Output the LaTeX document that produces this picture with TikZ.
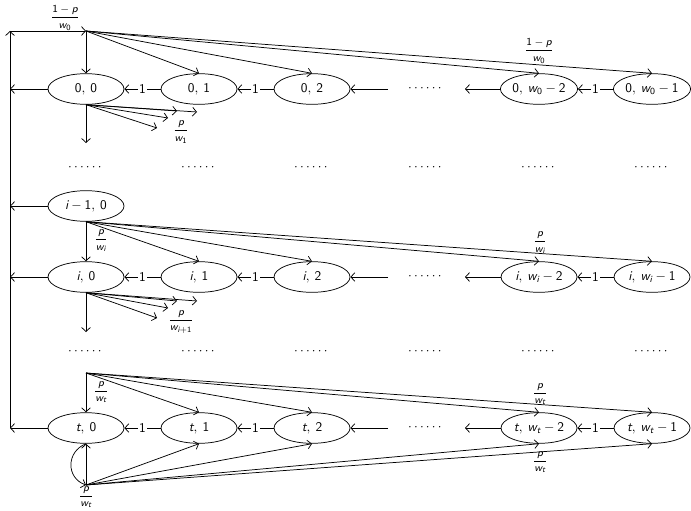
\documentclass[tikz,border=0pt]{standalone}
\usepackage{amsmath}
\usepackage{fontspec}
\usetikzlibrary{shapes.geometric,arrows.meta,calc}
\renewcommand{\familydefault}{\sfdefault}
\newcommand{\Vv}[1]{\text{\sffamily\itshape #1}}
\newcommand{\Nn}[1]{\text{\sffamily\upshape #1}}
\newcommand{\Cm}{,\mskip4mu}
\begin{document}
\begin{tikzpicture}[x=0.75pt,y=-0.75pt,
  st/.style={draw, ellipse, minimum width=57pt, minimum height=23pt, inner sep=0.5pt, line width=0.55pt},
  arr/.style={-{Straight Barb[length=3pt,width=6.5pt]}, line width=0.55pt},
  one/.style={fill=white, inner sep=1pt},
  lab/.style={font=\footnotesize, inner sep=0pt},
  dts/.style={inner sep=0pt}]
\useasboundingbox (0,0) rectangle (691,510);

% --- helper coordinates
\coordinate (S0) at (86,31);
\coordinate (Lt) at (10,31);
\coordinate (Lb) at (10,428);
\coordinate (St) at (86,373);
\coordinate (Sb) at (86,485);

% --- row 0
\node[st] (a0) at (86,89) {$\Nn{0}\Cm\Nn{0}$};
\node[st] (a1) at (199,89) {$\Nn{0}\Cm\Nn{1}$};
\node[st] (a2) at (312,89) {$\Nn{0}\Cm\Nn{2}$};
\node[dts] (ad) at (426,89) {$\cdots\cdots$};
\node[st] (a3) at (539,89) {$\Nn{0}\Cm\Vv{w}_{\Nn{0}}-\Nn{2}$};
\node[st] (a4) at (652,89) {$\Nn{0}\Cm\Vv{w}_{\Nn{0}}-\Nn{1}$};

% --- dots row 1
\foreach \x [count=\k] in {86,199,312,426,539,652}
  \node[dts] (d1\k) at (\x,168) {$\cdots\cdots$};

% --- row i-1
\node[st] (h0) at (86,206) {$\Vv{i}-\Nn{1}\Cm\Nn{0}$};

% --- row i
\node[st] (b0) at (86,277) {$\Vv{i}\Cm\Nn{0}$};
\node[st] (b1) at (199,277) {$\Vv{i}\Cm\Nn{1}$};
\node[st] (b2) at (312,277) {$\Vv{i}\Cm\Nn{2}$};
\node[dts] (bd) at (426,277) {$\cdots\cdots$};
\node[st] (b3) at (539,277) {$\Vv{i}\Cm\Vv{w}_{\Vv{i}}-\Nn{2}$};
\node[st] (b4) at (652,277) {$\Vv{i}\Cm\Vv{w}_{\Vv{i}}-\Nn{1}$};

% --- dots row 2
\foreach \x [count=\k] in {86,199,312,426,539,652}
  \node[dts] (d2\k) at (\x,352) {$\cdots\cdots$};

% --- row t
\node[st] (c0) at (86,428) {$\Vv{t}\Cm\Nn{0}$};
\node[st] (c1) at (199,428) {$\Vv{t}\Cm\Nn{1}$};
\node[st] (c2) at (312,428) {$\Vv{t}\Cm\Nn{2}$};
\node[dts] (cd) at (426,428) {$\cdots\cdots$};
\node[st] (c3) at (539,428) {$\Vv{t}\Cm\Vv{w}_{\Vv{t}}-\Nn{2}$};
\node[st] (c4) at (652,428) {$\Vv{t}\Cm\Vv{w}_{\Vv{t}}-\Nn{1}$};

% --- bus on the left
\draw[arr] (Lb) -- (Lt);
\draw[arr] (Lt) -- (S0);
\foreach \n in {a0,h0,b0,c0}
  \draw[arr] (\n.west) -- (\n.west -| Lt);

% --- horizontal chains
\foreach \r/\y in {a/89,b/277,c/428}{
  \draw[arr] (\r1.west) -- node[one]{1} (\r0.east);
  \draw[arr] (\r2.west) -- node[one]{1} (\r1.east);
  \draw[arr] (\r4.west) -- node[one]{1} (\r3.east);
  \coordinate (\r R) at (388,\y);
  \coordinate (\r L) at (465,\y);
  \draw[arr] (\r R) -- (\r2.east);
  \draw[arr] (\r3.west) -- (\r L);
}

% --- top source to row 0
\foreach \k in {0,...,4}
  \draw[arr] (S0) -- (a\k.north);
\node[lab] (l1) at (65,18) {$\displaystyle\frac{\Nn{1}-\Vv{p}}{\Vv{w}_{\Nn{0}}}$};
\node[lab] (l2) at (539,51) {$\displaystyle\frac{\Nn{1}-\Vv{p}}{\Vv{w}_{\Nn{0}}}$};

% --- fan below row 0
\coordinate (fa1) at (157,128);
\coordinate (fa2) at (168,118);
\coordinate (fa3) at (177,111);
\coordinate (fa4) at (197,112);
\coordinate (fad) at (86,143);
\foreach \c in {fa1,fa2,fa3,fa4,fad}
  \draw[arr] (a0.south) -- (\c);
\node[lab] (l3) at (181,132) {$\displaystyle\frac{\Vv{p}}{\Vv{w}_{\Nn{1}}}$};

% --- row i-1 to row i
\foreach \k in {0,...,4}
  \draw[arr] (h0.south) -- (b\k.north);
\node[lab] (l4) at (101,241) {$\displaystyle\frac{\Vv{p}}{\Vv{w}_{\Vv{i}}}$};
\node[lab] (l5) at (540,243) {$\displaystyle\frac{\Vv{p}}{\Vv{w}_{\Vv{i}}}$};

% --- fan below row i
\coordinate (fb1) at (157,318);
\coordinate (fb2) at (168,308);
\coordinate (fb3) at (177,301);
\coordinate (fb4) at (197,301);
\coordinate (fbd) at (86,332);
\foreach \c in {fb1,fb2,fb3,fb4,fbd}
  \draw[arr] (b0.south) -- (\c);
\node[lab] (l6) at (181,322) {$\displaystyle\frac{\Vv{p}}{\Vv{w}_{\Vv{i}+\Nn{1}}}$};

% --- row t sources
\foreach \k in {0,...,4}
  \draw[arr] (St) -- (c\k.north);
\foreach \k in {0,...,4}
  \draw[arr] (Sb) -- (c\k.south);
\draw[arr] (c0.south) .. controls ($(c0.south)+(-20,8)$) and ($(Sb)+(-20,-7)$) .. (Sb);
\node[lab] (l7) at (101,392) {$\displaystyle\frac{\Vv{p}}{\Vv{w}_{\Vv{t}}}$};
\node[lab] (l8) at (540,394) {$\displaystyle\frac{\Vv{p}}{\Vv{w}_{\Vv{t}}}$};
\node[lab] (l9) at (540,462) {$\displaystyle\frac{\Vv{p}}{\Vv{w}_{\Vv{t}}}$};
\node[lab] (l10) at (86,497) {$\displaystyle\frac{\Vv{p}}{\Vv{w}_{\Vv{t}}}$};
\end{tikzpicture}
\end{document}
